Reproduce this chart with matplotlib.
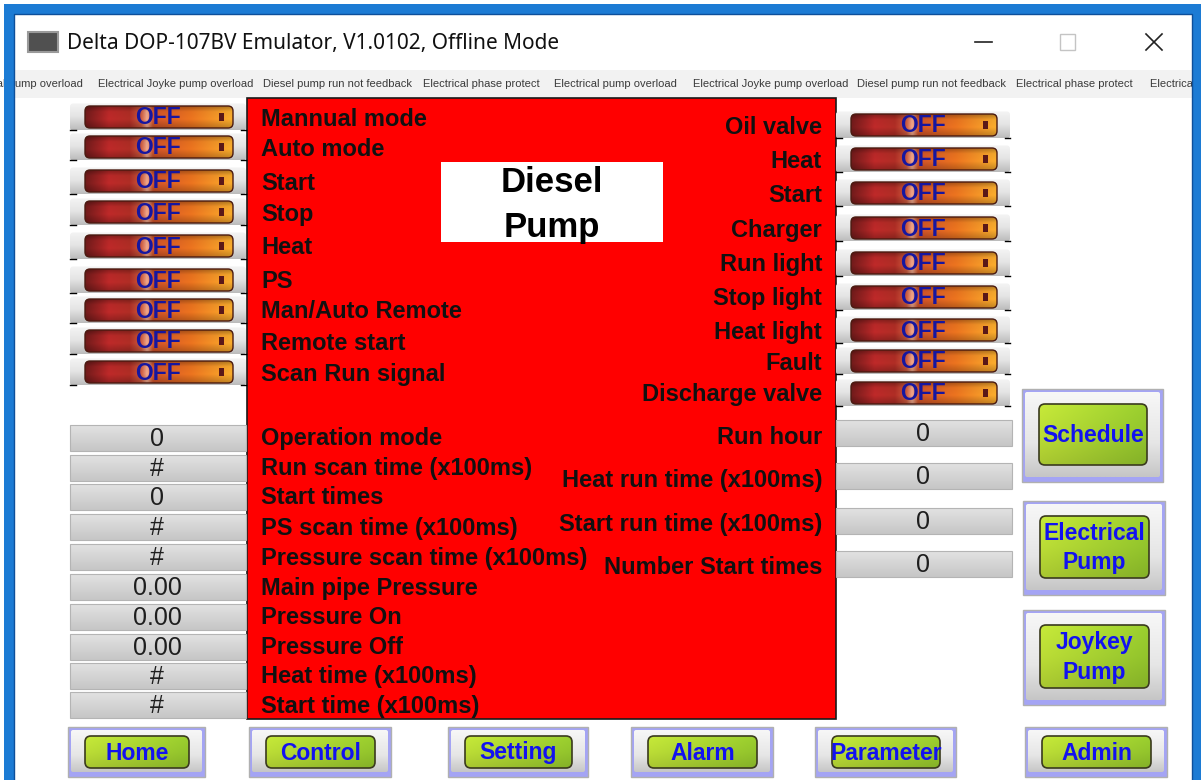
import numpy as np
import matplotlib
matplotlib.use("Agg")
import matplotlib.pyplot as plt
from matplotlib.patches import Rectangle, FancyBboxPatch
from matplotlib.colors import to_rgb

# ---- screen content ----
window_title = "Delta DOP-107BV Emulator, V1.0102, Offline Mode"
ticker_items = ["Electrical pump overload", "Electrical Joyke pump overload",
                "Diesel pump run not feedback", "Electrical phase protect"]
panel_title = ["Diesel", "Pump"]

left_switch_labels = ["Mannual mode", "Auto mode", "Start", "Stop", "Heat", "PS",
                      "Man/Auto Remote", "Remote start", "Scan Run signal"]
left_switch_states = ["OFF"] * 9
right_switch_labels = ["Oil valve", "Heat", "Start", "Charger", "Run light",
                       "Stop light", "Heat light", "Fault", "Discharge valve"]
right_switch_states = ["OFF"] * 9

left_value_labels = ["Operation mode", "Run scan time (x100ms)", "Start times",
                     "PS scan time (x100ms)", "Pressure scan time (x100ms)",
                     "Main pipe Pressure", "Pressure On", "Pressure Off",
                     "Heat time (x100ms)", "Start time (x100ms)"]
left_values = ["0", "#", "0", "#", "#", "0.00", "0.00", "0.00", "#", "#"]
right_value_labels = ["Run hour", "Heat run time (x100ms)",
                      "Start run time (x100ms)", "Number Start times"]
right_values = ["0", "0", "0", "0"]

side_buttons = ["Schedule", "Electrical\nPump", "Joykey\nPump"]
nav_buttons = ["Home", "Control", "Setting", "Alarm", "Parameter", "Admin"]

# ---- layout (screen pixels) ----
W, H = 1201, 780
left_switch_y = [117, 147, 181, 212, 246, 280, 310, 341, 372]
right_switch_y = [125, 159, 193, 228, 263, 297, 330, 361, 393]
left_value_y = [438, 468, 497, 527, 557, 587, 617, 647, 676, 705]
right_value_y = [433, 476, 521, 564]
right_value_label_y = [437, 480, 524, 567]
ticker_x = [-40, 98, 263, 423, 554, 693, 857, 1016, 1150]
side_button_boxes = [(1022, 389, 1163, 482), (1023, 501, 1165, 595),
                     (1023, 610, 1165, 705)]
nav_button_x = [(68, 205), (249, 391), (448, 588), (631, 773), (815, 956),
                (1025, 1167)]

LABEL_FONT = "Liberation Sans"


def ramp(stops, n=128):
    pos = np.linspace(0, 1, n)
    p = [s[0] for s in stops]
    cols = np.array([to_rgb(s[1]) for s in stops])
    return np.stack([np.interp(pos, p, cols[:, i]) for i in range(3)], axis=-1)


def shade(stops, n=64):
    pos = np.linspace(0, 1, n)
    return np.interp(pos, [s[0] for s in stops], [s[1] for s in stops])


def grad_box(ax, x0, y0, x1, y1, img, r=0, ec="none", lw=0, z=2):
    style = f"round,pad=0,rounding_size={r}" if r else "square,pad=0"
    patch = FancyBboxPatch((x0, y0), x1 - x0, y1 - y0, boxstyle=style,
                           fc="none", ec=ec, lw=lw, zorder=z + 0.1)
    ax.add_patch(patch)
    im = ax.imshow(img, extent=(x0, x1, y1, y0), aspect="auto",
                   interpolation="bilinear", zorder=z)
    im.set_clip_path(patch)
    return patch


def vgrad(stops):
    col = ramp(stops, 64)
    return np.repeat(col[:, None, :], 8, axis=1)


# gradient images for the widgets
sw_h = ramp([(0, "#6e1a1a"), (0.1, "#9a2222"), (0.16, "#b82828"), (0.3, "#aa2c24"),
             (0.38, "#c8583c"), (0.42, "#eba68a"), (0.46, "#cc5028"),
             (0.72, "#e4701e"), (1, "#f2a82c")])
sw_v = shade([(0, 0.72), (0.25, 1.0), (0.6, 1.04), (1, 0.8)])
switch_img = np.clip(sw_h[None, :, :] * sw_v[:, None, None], 0, 1)
holder_img = vgrad([(0, "#f4f4f4"), (0.5, "#e4e4e4"), (1, "#bcbcbc")])
value_img = vgrad([(0, "#e2e2e2"), (1, "#c6c6c6")])
frame_img = vgrad([(0, "#f7f7f7"), (0.6, "#e6e6e6"), (1, "#c6c6c6")])
gh = ramp([(0, "#bcdd36"), (1, "#92c42c")])
gv = shade([(0, 1.06), (0.5, 1.0), (1, 0.9)])
green_img = np.clip(gh[None, :, :] * gv[:, None, None], 0, 1)


def draw_switch(ax, x0, x1, cy, state):
    grad_box(ax, x0, cy - 13.5, x1, cy + 13.5, holder_img, r=3, z=2)
    ix0, ix1 = x0 + 15, x1 - 13
    grad_box(ax, ix0, cy - 11, ix1, cy + 11, switch_img, r=5, ec="#4a1a10",
             lw=1, z=3)
    ax.add_patch(Rectangle((ix1 - 14, cy - 4), 5, 8, fc="#5a1818", zorder=4))
    ax.text((ix0 + ix1) / 2 - 1, cy + 1, state, ha="center", va="center",
            fontsize=16.5, fontweight="bold", color="#1616a0",
            family=LABEL_FONT, zorder=5)
    ax.plot([x0, x0 + 6], [cy + 13, cy + 13], color="black", lw=1, zorder=4)
    ax.plot([x1 - 5, x1], [cy + 13, cy + 13], color="black", lw=1, zorder=4)


def draw_value(ax, x0, x1, cy, txt):
    grad_box(ax, x0, cy - 13, x1, cy + 13, value_img, ec="#b4b4b4", lw=0.8, z=2)
    ax.text((x0 + x1) / 2 - 1, cy + 1, txt, ha="center", va="center",
            fontsize=18, color="#1e1e1e", family=LABEL_FONT, zorder=5)


def draw_button(ax, x0, y0, x1, y1, inset, label):
    ax.add_patch(Rectangle((x0, y0), x1 - x0, y1 - y0, fc="#a4a4f4",
                           ec="#b0b0b0", lw=1, zorder=2))
    grad_box(ax, x0 + 3, y0 + 3, x1 - 3, y1 - 5, frame_img, r=2, z=2.5)
    l, t, r, b = inset
    grad_box(ax, x0 + l, y0 + t, x1 - r, y1 - b, green_img, r=6,
             ec="#3a3a1e", lw=1.2, z=3)
    ax.text((x0 + l + x1 - r) / 2, (y0 + t + y1 - b) / 2 + 1, label,
            ha="center", va="center", fontsize=16.5, fontweight="bold",
            color="#1212f0", family=LABEL_FONT, linespacing=1.35, zorder=5)


fig = plt.figure(figsize=(W / 100, H / 100), dpi=100)
ax = fig.add_axes([0, 0, 1, 1])
ax.axis("off")

# window chrome
ax.add_patch(Rectangle((0, 0), W, H, fc="white", zorder=0))
ax.add_patch(Rectangle((14, 70), 1178, 28, fc="#f2f2f2", zorder=0.5))
ax.add_patch(Rectangle((28, 32), 30, 20, fc="#505050", ec="#9a9a9a", lw=1.5,
                       zorder=2))
ax.text(67, 43, window_title, ha="left", va="center", fontsize=15,
        family="Noto Sans", color="#111111", zorder=5)
ax.plot([975, 992], [42, 42], color="#222222", lw=1.2, zorder=5)
ax.add_patch(Rectangle((1060, 34), 15, 16, fc="none", ec="#c4c4c4", lw=1,
                       zorder=5))
ax.plot([1146, 1162], [34, 50], color="#222222", lw=1.2, zorder=5)
ax.plot([1146, 1162], [50, 34], color="#222222", lw=1.2, zorder=5)

# scrolling alarm ticker, clipped to the client area
client = Rectangle((14, 14), 1178, H, transform=ax.transData)
for i, x in enumerate(ticker_x):
    t = ax.text(x, 84, ticker_items[i % len(ticker_items)], ha="left",
                va="center", fontsize=8, family=LABEL_FONT, color="#3a3a3a",
                zorder=1)
    t.set_clip_path(client)

# blue window border
ax.add_patch(Rectangle((4, 4), 1197, 10, fc="#1c7bd4", zorder=9))
ax.add_patch(Rectangle((4, 4), 10, H, fc="#1c7bd4", zorder=9))
ax.add_patch(Rectangle((1192, 4), 9, H, fc="#1c7bd4", zorder=9))
ax.plot([14, 14, 1192, 1192], [H, 14, 14, H], color="#0d4f9a", lw=1,
        zorder=9.5)

# red panel
ax.add_patch(Rectangle((247, 98), 589, 621, fc="#ff0000", ec="#1a1a1a",
                       lw=1.2, zorder=1))
ax.add_patch(Rectangle((441, 162), 222, 80, fc="white", zorder=1.5))
ax.text(552, 183, panel_title[0], ha="center", va="center", fontsize=25,
        fontweight="bold", family=LABEL_FONT, color="black", zorder=5)
ax.text(552, 227, panel_title[1], ha="center", va="center", fontsize=25,
        fontweight="bold", family=LABEL_FONT, color="black", zorder=5)

label_kw = dict(va="center", fontsize=17, fontweight="bold",
                family=LABEL_FONT, color="#111111", zorder=5)

for lab, st, y in zip(left_switch_labels, left_switch_states, left_switch_y):
    draw_switch(ax, 70, 246, y, st)
    ax.text(261, y + 2, lab, ha="left", **label_kw)

for lab, st, y in zip(right_switch_labels, right_switch_states, right_switch_y):
    draw_switch(ax, 836, 1010, y, st)
    ax.text(822, y + 2, lab, ha="right", **label_kw)

for lab, v, y in zip(left_value_labels, left_values, left_value_y):
    draw_value(ax, 70, 246, y, v)
    ax.text(261, y + 1, lab, ha="left", **label_kw)

for lab, v, y, ly in zip(right_value_labels, right_values, right_value_y,
                         right_value_label_y):
    draw_value(ax, 836, 1012, y, v)
    ax.text(822, ly, lab, ha="right", **label_kw)

# buttons
for lab, box in zip(side_buttons, side_button_boxes):
    draw_button(ax, *box, (17, 15, 16, 17), lab)

for lab, (x0, x1) in zip(nav_buttons, nav_button_x):
    draw_button(ax, x0, 727, x1, 777, (17, 9, 16, 9), lab)

ax.set_xlim(0, W)
ax.set_ylim(H, 0)
fig.savefig("out.png", dpi=100)
